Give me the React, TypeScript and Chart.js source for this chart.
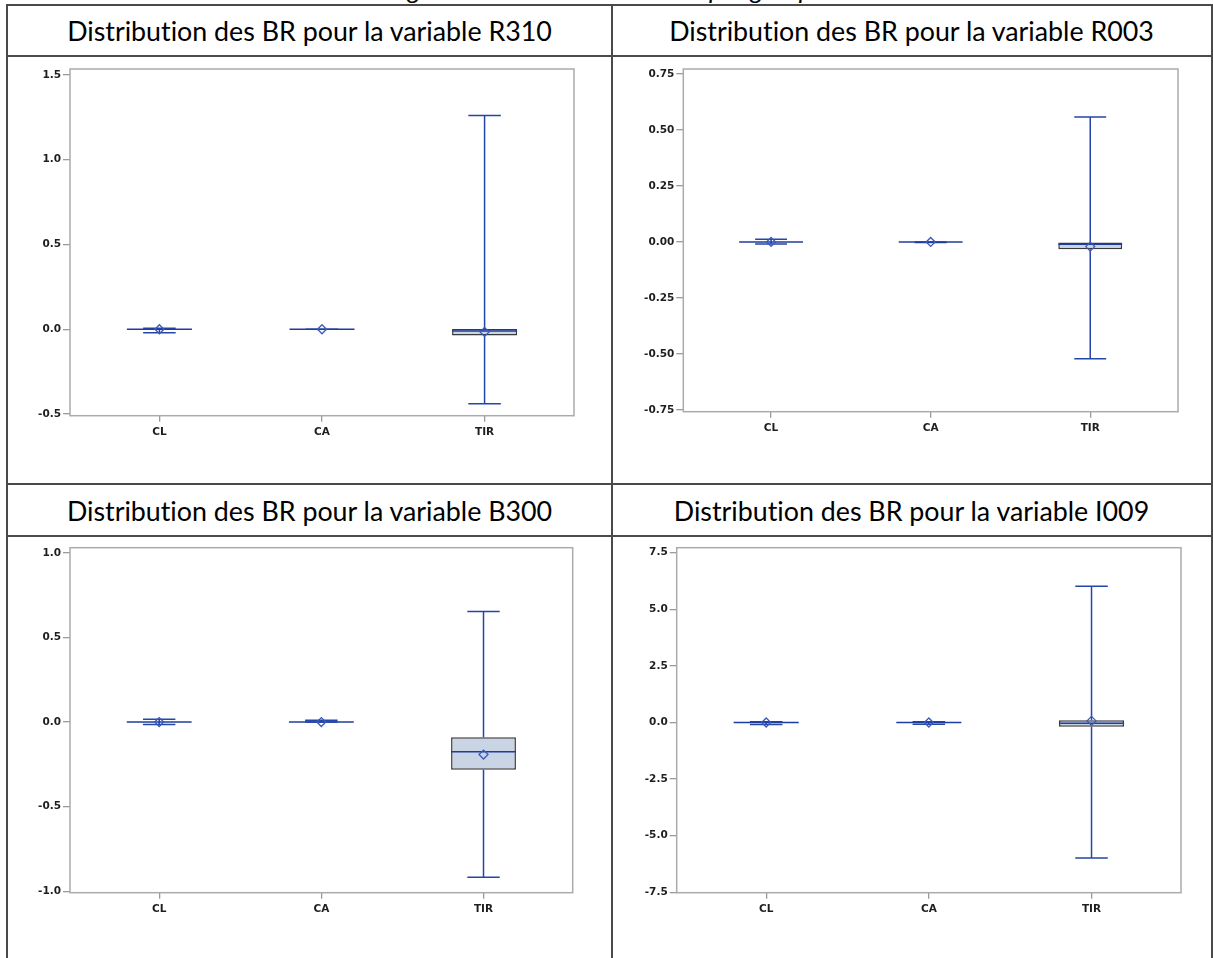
import React, { useEffect, useRef } from 'react';
import { Chart, registerables } from 'chart.js';

Chart.register(...registerables);

// ---------- DATA ----------
const CATEGORIES = ['CL', 'CA', 'TIR'];

// R310
const R310_MIN = [-0.02, 0, -0.44];
const R310_Q1 = [0, 0, -0.037];
const R310_MEDIAN = [0, 0, -0.01];
const R310_Q3 = [0, 0, 0.002];
const R310_MAX = [0.006, 0, 1.26];
const R310_MEAN = [0, 0, -0.016];
const R310_TICKS = [-0.5, 0, 0.5, 1.0, 1.5];

// R003
const R003_MIN = [-0.009, -0.003, -0.522];
const R003_Q1 = [0, 0, -0.033];
const R003_MEDIAN = [0, 0, -0.01];
const R003_Q3 = [0, 0, 0.0];
const R003_MAX = [0.012, 0, 0.558];
const R003_MEAN = [0, 0, -0.021];
const R003_TICKS = [-0.75, -0.5, -0.25, 0, 0.25, 0.5, 0.75];

// B300
const B300_MIN = [-0.015, 0, -0.917];
const B300_Q1 = [0, 0, -0.281];
const B300_MEDIAN = [0, 0, -0.175];
const B300_Q3 = [0, 0, -0.089];
const B300_MAX = [0.016, 0.01, 0.653];
const B300_MEAN = [0, 0, -0.192];
const B300_TICKS = [-1.0, -0.5, 0, 0.5, 1.0];

// I009
const I009_MIN = [-0.09, -0.08, -5.99];
const I009_Q1 = [0, 0, -0.19];
const I009_MEDIAN = [0, 0, -0.04];
const I009_Q3 = [0, 0, 0.1];
const I009_MAX = [0.03, 0.03, 6.02];
const I009_MEAN = [0, 0, 0.07];
const I009_TICKS = [-7.5, -5.0, -2.5, 0, 2.5, 5.0, 7.5];

const CAPTION = 'Figure 7 : Distribution des BR par groupe';
const TITLES = [
  'Distribution des BR pour la variable R310',
  'Distribution des BR pour la variable R003',
  'Distribution des BR pour la variable B300',
  'Distribution des BR pour la variable I009',
];

// ---------- PANELS ----------
type Stats = { min: number[]; q1: number[]; median: number[]; q3: number[]; max: number[]; mean: number[] };

const PANELS = [
  {
    stats: { min: R310_MIN, q1: R310_Q1, median: R310_MEDIAN, q3: R310_Q3, max: R310_MAX, mean: R310_MEAN },
    ticks: R310_TICKS, decimals: 1, yMin: -0.51, yMax: 1.535,
    cell: { left: 8, top: 57, width: 604, height: 427 },
    pad: { left: 22, top: 12, right: 38, bottom: 38.3 },
  },
  {
    stats: { min: R003_MIN, q1: R003_Q1, median: R003_MEDIAN, q3: R003_Q3, max: R003_MAX, mean: R003_MEAN },
    ticks: R003_TICKS, decimals: 2, yMin: -0.758, yMax: 0.772,
    cell: { left: 613, top: 57, width: 598, height: 427 },
    pad: { left: 30.3, top: 12, right: 33, bottom: 42.3 },
  },
  {
    stats: { min: B300_MIN, q1: B300_Q1, median: B300_MEDIAN, q3: B300_Q3, max: B300_MAX, mean: B300_MEAN },
    ticks: B300_TICKS, decimals: 1, yMin: -1.008, yMax: 1.03,
    cell: { left: 8, top: 537, width: 604, height: 421 },
    pad: { left: 22, top: 10.7, right: 39.3, bottom: 35.3 },
  },
  {
    stats: { min: I009_MIN, q1: I009_Q1, median: I009_MEDIAN, q3: I009_Q3, max: I009_MAX, mean: I009_MEAN },
    ticks: I009_TICKS, decimals: 1, yMin: -7.52, yMax: 7.72,
    cell: { left: 613, top: 537, width: 598, height: 421 },
    pad: { left: 23.7, top: 10.7, right: 30, bottom: 35.3 },
  },
];

const WHISKER_COLOR = '#2446a8';
const MEDIAN_COLOR = '#1f3d9e';
const BOX_FILL = '#c9d4e5';
const BOX_BORDER = '#3a3a3a';
const MEAN_COLOR = '#3a5ab8';
const FRAME_COLOR = '#ababab';
const TICK_FONT = { family: '"DejaVu Sans", sans-serif', size: 10.5, weight: 'bold' as const };
const TICK_COLOR = '#1e1e1e';
const BOX_RATIO = 0.4;
const CAP_RATIO = 0.2;

function BoxPanel({ panel }: { panel: (typeof PANELS)[number] }) {
  const ref = useRef<HTMLCanvasElement | null>(null);
  useEffect(() => {
    if (!ref.current) return;
    const s: Stats = panel.stats;
    const boxPlugin = {
      id: 'boxWhiskers',
      beforeDatasetsDraw(chart: any) {
        const { ctx, scales } = chart;
        const x = scales.x, y = scales.y;
        const unit = x.getPixelForValue(1) - x.getPixelForValue(0);
        const capHalf = (unit * CAP_RATIO) / 2;
        ctx.save();
        ctx.strokeStyle = WHISKER_COLOR;
        ctx.lineWidth = 1.5;
        CATEGORIES.forEach((_, i) => {
          const px = x.getPixelForValue(i);
          const pMax = y.getPixelForValue(s.max[i]);
          const pMin = y.getPixelForValue(s.min[i]);
          const pQ3 = y.getPixelForValue(s.q3[i]);
          const pQ1 = y.getPixelForValue(s.q1[i]);
          ctx.beginPath();
          ctx.moveTo(px, pQ3);
          ctx.lineTo(px, pMax);
          ctx.moveTo(px, pQ1);
          ctx.lineTo(px, pMin);
          ctx.moveTo(px - capHalf, pMax);
          ctx.lineTo(px + capHalf, pMax);
          ctx.moveTo(px - capHalf, pMin);
          ctx.lineTo(px + capHalf, pMin);
          ctx.stroke();
        });
        ctx.restore();
      },
      afterDatasetDraw(chart: any, args: any) {
        if (args.index !== 1) return;
        const { ctx, scales } = chart;
        const x = scales.x, y = scales.y;
        const unit = x.getPixelForValue(1) - x.getPixelForValue(0);
        const half = (unit * BOX_RATIO) / 2;
        ctx.save();
        ctx.strokeStyle = MEDIAN_COLOR;
        ctx.lineWidth = 1.5;
        CATEGORIES.forEach((_, i) => {
          const px = x.getPixelForValue(i);
          const pm = y.getPixelForValue(s.median[i]);
          ctx.beginPath();
          ctx.moveTo(px - half, pm);
          ctx.lineTo(px + half, pm);
          ctx.stroke();
        });
        ctx.restore();
      },
      afterDraw(chart: any) {
        const { ctx, chartArea } = chart;
        ctx.save();
        ctx.strokeStyle = FRAME_COLOR;
        ctx.lineWidth = 1.5;
        ctx.strokeRect(chartArea.left, chartArea.top, chartArea.right - chartArea.left, chartArea.bottom - chartArea.top);
        ctx.restore();
      },
    };

    const chart = new Chart(ref.current, {
      type: 'bar',
      data: {
        datasets: [
          {
            type: 'line',
            data: CATEGORIES.map((_, i) => ({ x: i, y: s.mean[i] })),
            showLine: false,
            pointStyle: 'rectRot',
            pointRadius: 4.5,
            pointBorderWidth: 1.3,
            pointBorderColor: MEAN_COLOR,
            pointBackgroundColor: 'rgba(0,0,0,0)',
          } as any,
          {
            type: 'bar',
            data: CATEGORIES.map((_, i) => ({ x: i, y: [s.q1[i], s.q3[i]] })),
            backgroundColor: BOX_FILL,
            borderColor: BOX_BORDER,
            borderWidth: 1.5,
            borderSkipped: false,
            barPercentage: BOX_RATIO,
            categoryPercentage: 1,
            grouped: false,
          } as any,
        ],
      },
      options: {
        responsive: false,
        animation: false,
        events: [],
        layout: { padding: panel.pad },
        plugins: { legend: { display: false }, tooltip: { enabled: false }, title: { display: false } },
        scales: {
          x: {
            type: 'linear',
            offset: false,
            min: -0.55,
            max: 2.55,
            afterBuildTicks: (scale: any) => {
              scale.ticks = CATEGORIES.map((_, i) => ({ value: i }));
            },
            afterFit: (scale: any) => {
              scale.height = 30;
            },
            ticks: {
              callback: (v: any) => CATEGORIES[Math.round(Number(v))],
              font: TICK_FONT,
              color: TICK_COLOR,
              padding: 4,
              maxRotation: 0,
              autoSkip: false,
            },
            grid: { display: true, offset: false, drawOnChartArea: false, drawTicks: true, tickLength: 6, color: '#9a9a9a', lineWidth: 1.3 },
            border: { display: false },
          },
          y: {
            type: 'linear',
            min: panel.yMin,
            max: panel.yMax,
            afterBuildTicks: (scale: any) => {
              scale.ticks = panel.ticks.map((v) => ({ value: v }));
            },
            afterFit: (scale: any) => {
              scale.width = 40;
            },
            ticks: {
              callback: (v: any) => Number(v).toFixed(panel.decimals),
              font: TICK_FONT,
              color: TICK_COLOR,
              padding: 2,
              autoSkip: false,
            },
            grid: { display: true, drawOnChartArea: false, drawTicks: true, tickLength: 7, color: '#9a9a9a', lineWidth: 1.3 },
            border: { display: false },
          },
        },
      } as any,
      plugins: [boxPlugin as any],
    });
    return () => chart.destroy();
  }, [panel]);

  const c = panel.cell;
  return (
    <canvas
      ref={ref}
      width={c.width}
      height={c.height}
      style={{ position: 'absolute', left: c.left, top: c.top, width: c.width, height: c.height }}
    />
  );
}

const LINE = '#4a4a4a';

export default function App() {
  const hLine = (y: number) => (
    <div style={{ position: 'absolute', left: 6, width: 1207, top: y - 1, height: 2, background: LINE }} />
  );
  const vLine = (x: number) => (
    <div style={{ position: 'absolute', top: 4, height: 954, left: x - 1, width: 2, background: LINE }} />
  );
  const titleStyle = (left: number, width: number, top: number, height: number): React.CSSProperties => ({
    position: 'absolute',
    left,
    width,
    top,
    height,
    display: 'flex',
    alignItems: 'center',
    justifyContent: 'center',
    fontFamily: 'Lato, "Open Sans", sans-serif',
    fontSize: 26.8,
    fontVariantLigatures: 'none',
    fontFeatureSettings: '"liga" 0, "clig" 0',
    color: '#000',
    whiteSpace: 'nowrap',
  });
  return (
    <div style={{ position: 'fixed', left: 0, top: 0, width: 1213, height: 958, overflow: 'hidden', background: '#fff' }}>
      <div
        style={{
          position: 'absolute',
          left: 0,
          width: 1213,
          top: -24,
          height: 26,
          lineHeight: '26px',
          textAlign: 'center',
          fontFamily: 'Lato, sans-serif',
          fontStyle: 'italic',
          fontSize: 26,
          fontVariantLigatures: 'none',
          color: '#000',
          whiteSpace: 'nowrap',
        }}
      >
        {CAPTION}
      </div>
      <div style={titleStyle(7, 605, 6, 50)}>{TITLES[0]}</div>
      <div style={titleStyle(612, 599, 6, 50)}>{TITLES[1]}</div>
      <div style={titleStyle(7, 605, 485, 51)}>{TITLES[2]}</div>
      <div style={titleStyle(612, 599, 485, 51)}>{TITLES[3]}</div>
      {PANELS.map((p, i) => (
        <BoxPanel key={i} panel={p} />
      ))}
      {hLine(5)}
      {hLine(56)}
      {hLine(484)}
      {hLine(536)}
      {vLine(7)}
      {vLine(612)}
      {vLine(1212)}
    </div>
  );
}
